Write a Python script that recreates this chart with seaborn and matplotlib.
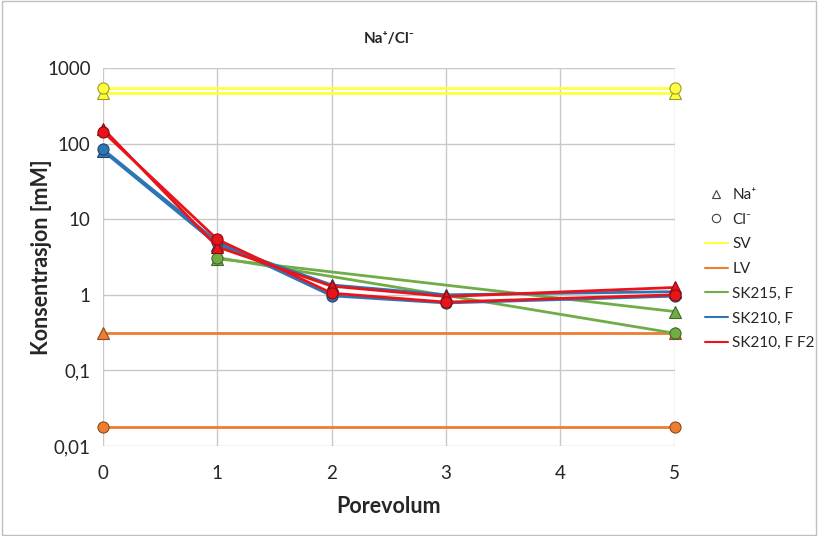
import numpy as np
import pandas as pd
import seaborn as sns
import matplotlib.pyplot as plt
from matplotlib.lines import Line2D
from matplotlib.ticker import FixedLocator, NullLocator
import matplotlib.colors as mcolors

# data
porevolum = [0, 1, 2, 3, 5]

sv_x = [0, 5]
sv_na = [468, 468]
sv_cl = [545, 545]

lv_x = [0, 5]
lv_na = [0.31, 0.31]
lv_cl = [0.018, 0.018]

sk215_x = [1, 5]
sk215_na = [3.0, 0.6]
sk215_cl = [3.1, 0.31]

sk210_na = [80, 4.6, 1.35, 1.0, 1.1]
sk210_cl = [84, 5.0, 0.97, 0.78, 0.96]

sk210f2_na = [158, 4.3, 1.3, 0.95, 1.25]
sk210f2_cl = [144, 5.4, 1.05, 0.8, 1.0]

series = [
    ('SV', sv_x, sv_na, sv_cl, '#FFFF40'),
    ('LV', lv_x, lv_na, lv_cl, '#ED7D31'),
    ('SK215, F', sk215_x, sk215_na, sk215_cl, '#70AD47'),
    ('SK210, F', porevolum, sk210_na, sk210_cl, '#2E75B6'),
    ('SK210, F F2', porevolum, sk210f2_na, sk210f2_cl, '#E8141A'),
]

y_ticks = [0.01, 0.1, 1, 10, 100, 1000]
y_labels = ['0,01', '0,1', '1', '10', '100', '1000']
x_ticks = [0, 1, 2, 3, 4, 5]

sns.set_style('white')
plt.rcParams['font.family'] = ['Lato', 'DejaVu Sans']

fig = plt.figure(figsize=(8.18, 5.36), dpi=100)
ax = fig.add_axes([0.126, 0.168, 0.699, 0.705])


def darker(c, f=0.6):
    r, g, b = mcolors.to_rgb(c)
    return (r * f, g * f, b * f)


for name, xs, na, cl, col in series:
    for vals, mk in ((na, '^'), (cl, 'o')):
        df = pd.DataFrame({'x': xs, 'y': vals})
        sns.lineplot(data=df, x='x', y='y', ax=ax, color=col, lw=2,
                     marker=mk, markersize=8, markeredgecolor=darker(col),
                     markeredgewidth=0.8, legend=False)

ax.set_yscale('log')
ax.set_ylim(0.01, 1000)
ax.set_xlim(0, 5)
ax.yaxis.set_major_locator(FixedLocator(y_ticks))
ax.yaxis.set_minor_locator(NullLocator())
ax.set_yticklabels(y_labels)
ax.set_xticks(x_ticks)
ax.grid(True, color='#C8C8C8', lw=1)
ax.set_axisbelow(True)
for s in ax.spines.values():
    s.set_visible(False)
ax.tick_params(axis='y', length=0, labelsize=13.5, pad=9)
ax.tick_params(axis='x', length=0, labelsize=13.5, pad=14)
for l in ax.get_lines():
    l.set_clip_on(False)

ax.set_xlabel('Porevolum', fontsize=15.5, fontweight='bold', labelpad=10)
ax.set_ylabel('Konsentrasjon [mM]', fontsize=15.5, fontweight='bold', labelpad=-4)
ax.set_title('Na⁺/Cl⁻', fontsize=11, fontweight='bold', pad=18)

handles = [
    Line2D([], [], marker='^', ls='none', mfc='none', mec='#404040', ms=6, mew=0.8),
    Line2D([], [], marker='o', ls='none', mfc='none', mec='#404040', ms=6, mew=0.8),
]
labels = ['Na⁺', 'Cl⁻']
for name, xs, na, cl, col in series:
    handles.append(Line2D([], [], color=col, lw=1.5))
    labels.append(name)
fig.legend(handles, labels, loc='upper left', bbox_to_anchor=(0.845, 0.675),
           frameon=False, fontsize=11, handlelength=1.5, handletextpad=0.3,
           labelspacing=0.7)

fig.patches.append(plt.Rectangle((0.002, 0.002), 0.996, 0.996, transform=fig.transFigure,
                                 fill=False, ec='#BFBFBF', lw=1))

fig.savefig('out.png', dpi=100)
